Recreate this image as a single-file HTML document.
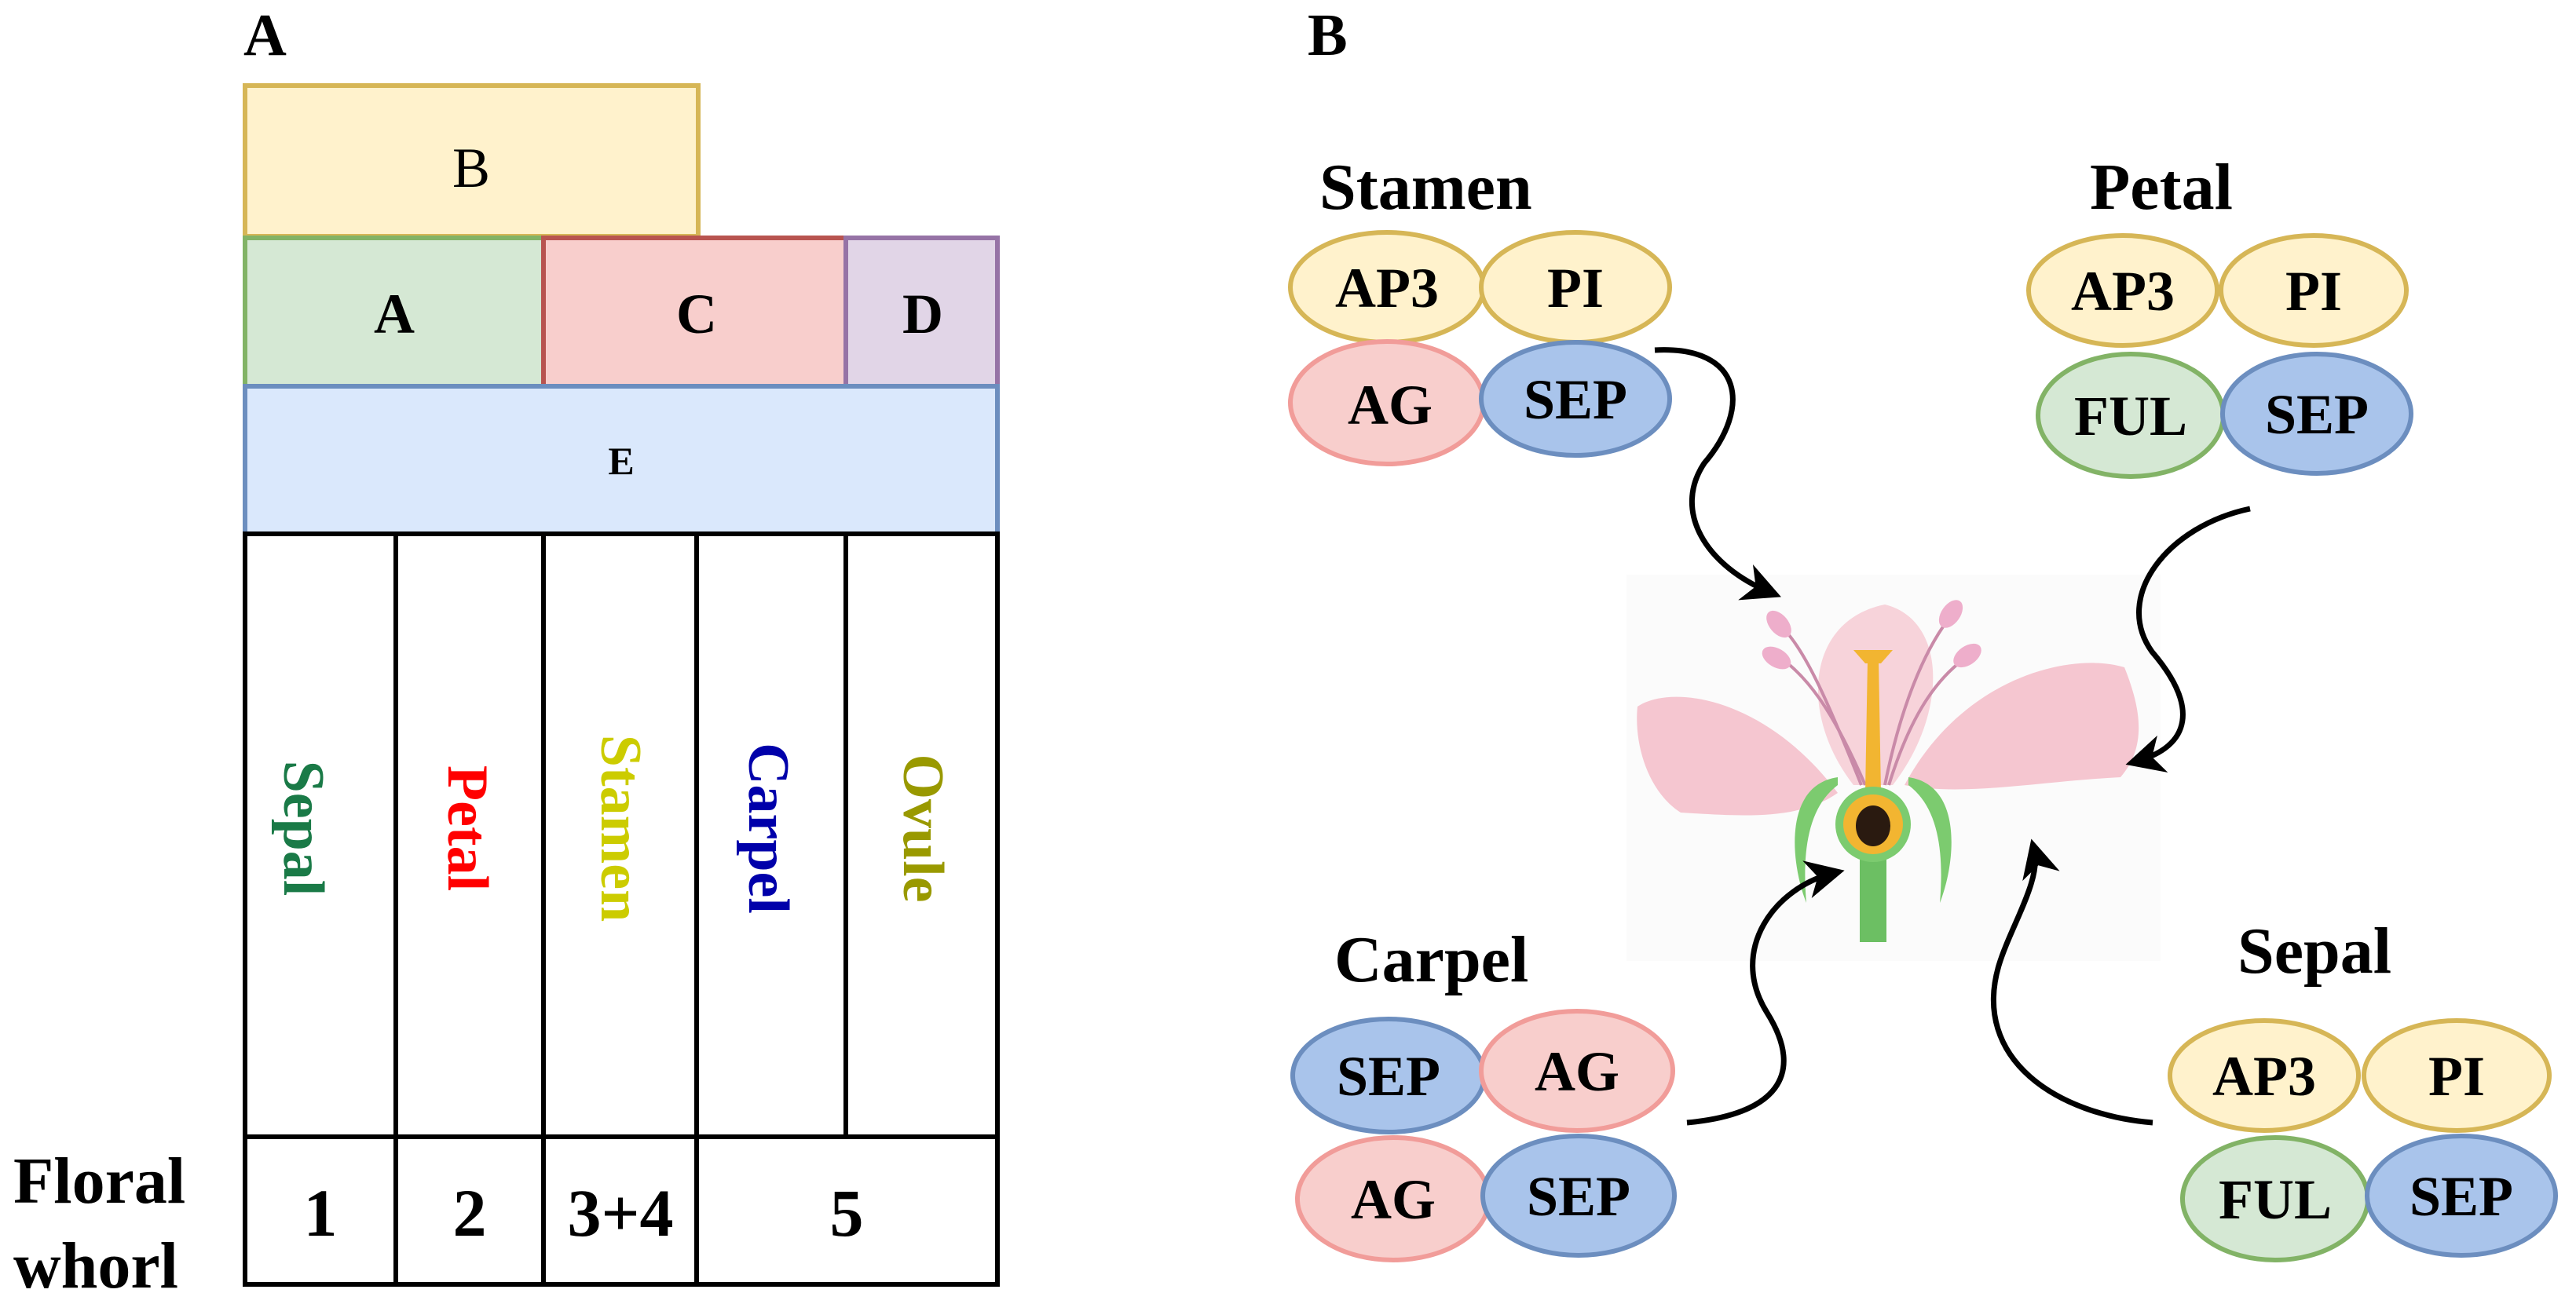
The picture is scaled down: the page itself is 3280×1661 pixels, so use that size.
<!DOCTYPE html>
<html><head><meta charset="utf-8"><style>
html,body{margin:0;padding:0;background:#fff;}
svg{display:block;}
text{font-family:"Liberation Serif",serif;font-weight:bold;}
</style></head><body>
<svg width="3280" height="1661" viewBox="0 0 3280 1661" xmlns="http://www.w3.org/2000/svg">
<!-- Panel A -->
<text x="310" y="70" font-size="76">A</text>
<rect x="312" y="109" width="577" height="192" fill="#fff2cc" stroke="#d6b656" stroke-width="6"/>
<text x="600" y="238" font-size="72" text-anchor="middle" style="font-weight:normal">B</text>
<rect x="312" y="303" width="380" height="189" fill="#d5e8d4" stroke="#82b366" stroke-width="6"/>
<rect x="692" y="303" width="385" height="189" fill="#f8cecc" stroke="#b85450" stroke-width="6"/>
<rect x="1077" y="303" width="193" height="189" fill="#e1d5e7" stroke="#9673a6" stroke-width="6"/>
<text x="502" y="424" font-size="72" text-anchor="middle">A</text>
<text x="887" y="424" font-size="72" text-anchor="middle">C</text>
<text x="1175" y="424" font-size="72" text-anchor="middle">D</text>
<rect x="312" y="492" width="958" height="188" fill="#dae8fc" stroke="#6c8ebf" stroke-width="6"/>
<text x="791" y="604" font-size="50" text-anchor="middle">E</text>
<g fill="none" stroke="#000" stroke-width="6">
<rect x="312" y="680" width="958" height="956"/>
<line x1="312" y1="1448" x2="1270" y2="1448"/>
<line x1="504" y1="680" x2="504" y2="1636"/>
<line x1="692" y1="680" x2="692" y2="1636"/>
<line x1="887" y1="680" x2="887" y2="1636"/>
<line x1="1077" y1="680" x2="1077" y2="1448"/>
</g>
<g font-size="74">
<text transform="translate(362,1055) rotate(90)" text-anchor="middle" fill="#1a7a47">Sepal</text>
<text transform="translate(571,1055) rotate(90)" text-anchor="middle" fill="#ff0000">Petal</text>
<text transform="translate(766,1055) rotate(90)" text-anchor="middle" fill="#cccc00">Stamen</text>
<text transform="translate(954,1055) rotate(90)" text-anchor="middle" fill="#0000aa">Carpel</text>
<text transform="translate(1151,1055) rotate(90)" text-anchor="middle" fill="#999900">Ovule</text>
</g>
<g font-size="86" text-anchor="middle">
<text x="408" y="1574">1</text>
<text x="598" y="1574">2</text>
<text x="790" y="1574">3+4</text>
<text x="1078" y="1574">5</text>
</g>
<text x="17" y="1532" font-size="84">Floral</text>
<text x="17" y="1640" font-size="84">whorl</text>

<!-- Panel B -->
<text x="1665" y="70" font-size="76">B</text>
<g font-size="84">
<text x="1680" y="266">Stamen</text>
<text x="2661" y="266">Petal</text>
<text x="1699" y="1250">Carpel</text>
<text x="2849" y="1239">Sepal</text>
</g>
<g stroke-width="6" font-size="72" text-anchor="middle">
<ellipse cx="1766" cy="366" rx="123" ry="70" fill="#fff2cc" stroke="#d6b656"/>
<ellipse cx="2006" cy="366" rx="120" ry="70" fill="#fff2cc" stroke="#d6b656"/>
<ellipse cx="1766" cy="513" rx="123" ry="78" fill="#f8cecc" stroke="#f19c99"/>
<ellipse cx="2006" cy="508" rx="120" ry="72" fill="#a9c4eb" stroke="#6c8ebf"/>
<text x="1766" y="391" stroke="none">AP3</text>
<text x="2006" y="391" stroke="none">PI</text>
<text x="1770" y="540" stroke="none">AG</text>
<text x="2006" y="533" stroke="none">SEP</text>
<ellipse cx="2703" cy="370" rx="120" ry="70" fill="#fff2cc" stroke="#d6b656"/>
<ellipse cx="2946" cy="370" rx="118" ry="70" fill="#fff2cc" stroke="#d6b656"/>
<ellipse cx="2713" cy="529" rx="118" ry="78" fill="#d5e8d4" stroke="#82b366"/>
<ellipse cx="2950" cy="527" rx="120" ry="76" fill="#a9c4eb" stroke="#6c8ebf"/>
<text x="2703" y="395" stroke="none">AP3</text>
<text x="2946" y="395" stroke="none">PI</text>
<text x="2713" y="554" stroke="none">FUL</text>
<text x="2950" y="552" stroke="none">SEP</text>
<ellipse cx="1768" cy="1370" rx="122" ry="72" fill="#a9c4eb" stroke="#6c8ebf"/>
<ellipse cx="2008" cy="1364" rx="122" ry="76" fill="#f8cecc" stroke="#f19c99"/>
<ellipse cx="1774" cy="1527" rx="122" ry="78" fill="#f8cecc" stroke="#f19c99"/>
<ellipse cx="2010" cy="1523" rx="122" ry="76" fill="#a9c4eb" stroke="#6c8ebf"/>
<text x="1768" y="1395" stroke="none">SEP</text>
<text x="2008" y="1389" stroke="none">AG</text>
<text x="1774" y="1552" stroke="none">AG</text>
<text x="2010" y="1548" stroke="none">SEP</text>
<ellipse cx="2883" cy="1370" rx="120" ry="70" fill="#fff2cc" stroke="#d6b656"/>
<ellipse cx="3128" cy="1370" rx="118" ry="70" fill="#fff2cc" stroke="#d6b656"/>
<ellipse cx="2897" cy="1527" rx="118" ry="78" fill="#d5e8d4" stroke="#82b366"/>
<ellipse cx="3134" cy="1523" rx="120" ry="76" fill="#a9c4eb" stroke="#6c8ebf"/>
<text x="2883" y="1395" stroke="none">AP3</text>
<text x="3128" y="1395" stroke="none">PI</text>
<text x="2897" y="1552" stroke="none">FUL</text>
<text x="3134" y="1548" stroke="none">SEP</text>
</g>

<!-- Flower -->
<rect x="2071" y="732" width="680" height="492" fill="#fbfbfb"/>
<g>
<path d="M2340,1010 C2250,890 2130,870 2085,900 C2080,950 2100,1010 2140,1035 C2220,1040 2290,1045 2340,1010Z" fill="#f5c6d0"/>
<path d="M2425,1000 C2500,860 2640,830 2705,850 C2725,900 2735,950 2700,990 C2600,995 2500,1015 2425,1000Z" fill="#f5c6d0"/>
<path d="M2360,1000 C2290,910 2300,790 2400,770 C2480,790 2480,910 2410,1000Z" fill="#f7d3da"/>
<g stroke="#c98aa8" stroke-width="4" fill="none">
<path d="M2370,1000 C2330,900 2300,830 2270,800"/>
<path d="M2375,1000 C2340,920 2310,870 2270,840"/>
<path d="M2400,1000 C2420,900 2450,830 2480,790"/>
<path d="M2405,1000 C2430,920 2460,870 2500,840"/>
</g>
<g fill="#eeaecb">
<ellipse cx="2265" cy="795" rx="12" ry="20" transform="rotate(-40 2265 795)"/>
<ellipse cx="2262" cy="838" rx="12" ry="20" transform="rotate(-60 2262 838)"/>
<ellipse cx="2484" cy="782" rx="12" ry="20" transform="rotate(35 2484 782)"/>
<ellipse cx="2505" cy="835" rx="12" ry="20" transform="rotate(55 2505 835)"/>
</g>
<path d="M2378,840 L2392,840 L2395,1010 L2375,1010Z" fill="#f2b531"/>
<path d="M2360,828 L2410,828 L2395,845 L2375,845Z" fill="#f2b531"/>
<rect x="2368" y="1090" width="34" height="110" fill="#6cbf63"/>
<path d="M2340,990 C2270,1000 2280,1100 2300,1150 C2295,1090 2300,1030 2340,1000Z" fill="#7ccb6f"/>
<path d="M2430,990 C2500,1000 2490,1100 2470,1150 C2475,1090 2470,1030 2430,1000Z" fill="#7ccb6f"/>
<circle cx="2385" cy="1050" r="48" fill="#7ccb6f"/>
<circle cx="2385" cy="1050" r="38" fill="#f2b531"/>
<ellipse cx="2385" cy="1052" rx="22" ry="26" fill="#2a1a10"/>
</g>

<defs>
<marker id="ah" markerWidth="7" markerHeight="7" refX="5" refY="3.5" orient="auto" markerUnits="strokeWidth">
<path d="M0,0 L7,3.5 L0,7 L2,3.5Z" fill="#000"/>
</marker>
</defs>
<g fill="none" stroke="#000" stroke-width="7" marker-end="url(#ah)">
<path d="M2107,446 C2220,440 2230,520 2170,590 C2130,650 2170,720 2255,755"/>
<path d="M2865,648 C2760,670 2690,760 2740,830 C2800,900 2790,950 2720,970"/>
<path d="M2148,1430 C2260,1420 2300,1370 2250,1290 C2200,1210 2260,1130 2335,1112"/>
<path d="M2741,1430 C2620,1420 2510,1350 2545,1230 C2560,1180 2600,1120 2590,1082"/>
</g>
</svg>
</body></html>
